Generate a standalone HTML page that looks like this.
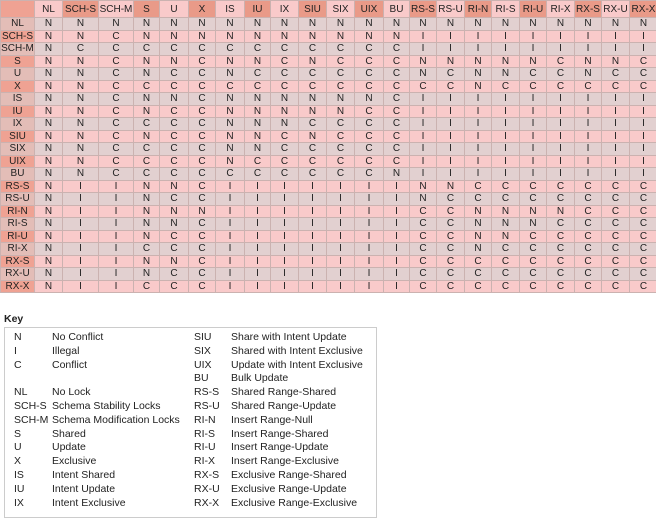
<!DOCTYPE html>
<html><head><meta charset="utf-8"><style>
body{margin:0;background:#fff;font-family:"Liberation Sans","DejaVu Sans",sans-serif;font-size:10px;color:#222;width:656px;height:524px;overflow:hidden;position:relative}
table.m{position:absolute;left:0;top:0;border-collapse:collapse;table-layout:fixed;width:656px}
table.m td{border:1px solid #cbb2b0;text-align:center;padding:0;height:11.5px;line-height:11px;overflow:hidden;white-space:nowrap}
table.m tr.h td{height:16px;background:#e3c2bd}
table.m tr.h td:nth-child(odd){background:#e99a88}
table.m tr.h td:first-child{background:#f48a72}
table.m tr:nth-child(even) td{background:#e2d0d0}
table.m tr:nth-child(odd) td{background:#f9caca}
table.m tr:nth-child(even) td:first-child{background:#e3bdb7}
table.m tr:nth-child(odd) td:first-child{background:#efa293}
.key{position:absolute;left:4px;top:313px;font-weight:bold;font-size:10.5px}
.box{position:absolute;left:4px;top:327px;width:371px;height:189px;border:1px solid #ccc}
.k{position:absolute;font-size:10.5px;line-height:13.8px;white-space:pre}
</style></head><body>
<table class="m">
<colgroup><col style="width:34px"><col style="width:28px"><col style="width:36px"><col style="width:35px"><col style="width:26px"><col style="width:29px"><col style="width:27px"><col style="width:29px"><col style="width:26px"><col style="width:28px"><col style="width:28px"><col style="width:28px"><col style="width:29px"><col style="width:26px"><col style="width:27px"><col style="width:28px"><col style="width:27px"><col style="width:28px"><col style="width:27px"><col style="width:28px"><col style="width:27px"><col style="width:28px"><col style="width:28px"></colgroup>
<tr class="h"><td></td><td>NL</td><td>SCH-S</td><td>SCH-M</td><td>S</td><td>U</td><td>X</td><td>IS</td><td>IU</td><td>IX</td><td>SIU</td><td>SIX</td><td>UIX</td><td>BU</td><td>RS-S</td><td>RS-U</td><td>RI-N</td><td>RI-S</td><td>RI-U</td><td>RI-X</td><td>RX-S</td><td>RX-U</td><td>RX-X</td></tr>
<tr><td>NL</td><td>N</td><td>N</td><td>N</td><td>N</td><td>N</td><td>N</td><td>N</td><td>N</td><td>N</td><td>N</td><td>N</td><td>N</td><td>N</td><td>N</td><td>N</td><td>N</td><td>N</td><td>N</td><td>N</td><td>N</td><td>N</td><td>N</td></tr>
<tr><td>SCH-S</td><td>N</td><td>N</td><td>C</td><td>N</td><td>N</td><td>N</td><td>N</td><td>N</td><td>N</td><td>N</td><td>N</td><td>N</td><td>N</td><td>I</td><td>I</td><td>I</td><td>I</td><td>I</td><td>I</td><td>I</td><td>I</td><td>I</td></tr>
<tr><td>SCH-M</td><td>N</td><td>C</td><td>C</td><td>C</td><td>C</td><td>C</td><td>C</td><td>C</td><td>C</td><td>C</td><td>C</td><td>C</td><td>C</td><td>I</td><td>I</td><td>I</td><td>I</td><td>I</td><td>I</td><td>I</td><td>I</td><td>I</td></tr>
<tr><td>S</td><td>N</td><td>N</td><td>C</td><td>N</td><td>N</td><td>C</td><td>N</td><td>N</td><td>C</td><td>N</td><td>C</td><td>C</td><td>C</td><td>N</td><td>N</td><td>N</td><td>N</td><td>N</td><td>C</td><td>N</td><td>N</td><td>C</td></tr>
<tr><td>U</td><td>N</td><td>N</td><td>C</td><td>N</td><td>C</td><td>C</td><td>N</td><td>C</td><td>C</td><td>C</td><td>C</td><td>C</td><td>C</td><td>N</td><td>C</td><td>N</td><td>N</td><td>C</td><td>C</td><td>N</td><td>C</td><td>C</td></tr>
<tr><td>X</td><td>N</td><td>N</td><td>C</td><td>C</td><td>C</td><td>C</td><td>C</td><td>C</td><td>C</td><td>C</td><td>C</td><td>C</td><td>C</td><td>C</td><td>C</td><td>N</td><td>C</td><td>C</td><td>C</td><td>C</td><td>C</td><td>C</td></tr>
<tr><td>IS</td><td>N</td><td>N</td><td>C</td><td>N</td><td>N</td><td>C</td><td>N</td><td>N</td><td>N</td><td>N</td><td>N</td><td>N</td><td>C</td><td>I</td><td>I</td><td>I</td><td>I</td><td>I</td><td>I</td><td>I</td><td>I</td><td>I</td></tr>
<tr><td>IU</td><td>N</td><td>N</td><td>C</td><td>N</td><td>C</td><td>C</td><td>N</td><td>N</td><td>N</td><td>N</td><td>N</td><td>C</td><td>C</td><td>I</td><td>I</td><td>I</td><td>I</td><td>I</td><td>I</td><td>I</td><td>I</td><td>I</td></tr>
<tr><td>IX</td><td>N</td><td>N</td><td>C</td><td>C</td><td>C</td><td>C</td><td>N</td><td>N</td><td>N</td><td>C</td><td>C</td><td>C</td><td>C</td><td>I</td><td>I</td><td>I</td><td>I</td><td>I</td><td>I</td><td>I</td><td>I</td><td>I</td></tr>
<tr><td>SIU</td><td>N</td><td>N</td><td>C</td><td>N</td><td>C</td><td>C</td><td>N</td><td>N</td><td>C</td><td>N</td><td>C</td><td>C</td><td>C</td><td>I</td><td>I</td><td>I</td><td>I</td><td>I</td><td>I</td><td>I</td><td>I</td><td>I</td></tr>
<tr><td>SIX</td><td>N</td><td>N</td><td>C</td><td>C</td><td>C</td><td>C</td><td>N</td><td>N</td><td>C</td><td>C</td><td>C</td><td>C</td><td>C</td><td>I</td><td>I</td><td>I</td><td>I</td><td>I</td><td>I</td><td>I</td><td>I</td><td>I</td></tr>
<tr><td>UIX</td><td>N</td><td>N</td><td>C</td><td>C</td><td>C</td><td>C</td><td>N</td><td>C</td><td>C</td><td>C</td><td>C</td><td>C</td><td>C</td><td>I</td><td>I</td><td>I</td><td>I</td><td>I</td><td>I</td><td>I</td><td>I</td><td>I</td></tr>
<tr><td>BU</td><td>N</td><td>N</td><td>C</td><td>C</td><td>C</td><td>C</td><td>C</td><td>C</td><td>C</td><td>C</td><td>C</td><td>C</td><td>N</td><td>I</td><td>I</td><td>I</td><td>I</td><td>I</td><td>I</td><td>I</td><td>I</td><td>I</td></tr>
<tr><td>RS-S</td><td>N</td><td>I</td><td>I</td><td>N</td><td>N</td><td>C</td><td>I</td><td>I</td><td>I</td><td>I</td><td>I</td><td>I</td><td>I</td><td>N</td><td>N</td><td>C</td><td>C</td><td>C</td><td>C</td><td>C</td><td>C</td><td>C</td></tr>
<tr><td>RS-U</td><td>N</td><td>I</td><td>I</td><td>N</td><td>C</td><td>C</td><td>I</td><td>I</td><td>I</td><td>I</td><td>I</td><td>I</td><td>I</td><td>N</td><td>C</td><td>C</td><td>C</td><td>C</td><td>C</td><td>C</td><td>C</td><td>C</td></tr>
<tr><td>RI-N</td><td>N</td><td>I</td><td>I</td><td>N</td><td>N</td><td>N</td><td>I</td><td>I</td><td>I</td><td>I</td><td>I</td><td>I</td><td>I</td><td>C</td><td>C</td><td>N</td><td>N</td><td>N</td><td>N</td><td>C</td><td>C</td><td>C</td></tr>
<tr><td>RI-S</td><td>N</td><td>I</td><td>I</td><td>N</td><td>N</td><td>C</td><td>I</td><td>I</td><td>I</td><td>I</td><td>I</td><td>I</td><td>I</td><td>C</td><td>C</td><td>N</td><td>N</td><td>N</td><td>C</td><td>C</td><td>C</td><td>C</td></tr>
<tr><td>RI-U</td><td>N</td><td>I</td><td>I</td><td>N</td><td>C</td><td>C</td><td>I</td><td>I</td><td>I</td><td>I</td><td>I</td><td>I</td><td>I</td><td>C</td><td>C</td><td>N</td><td>N</td><td>C</td><td>C</td><td>C</td><td>C</td><td>C</td></tr>
<tr><td>RI-X</td><td>N</td><td>I</td><td>I</td><td>C</td><td>C</td><td>C</td><td>I</td><td>I</td><td>I</td><td>I</td><td>I</td><td>I</td><td>I</td><td>C</td><td>C</td><td>N</td><td>C</td><td>C</td><td>C</td><td>C</td><td>C</td><td>C</td></tr>
<tr><td>RX-S</td><td>N</td><td>I</td><td>I</td><td>N</td><td>N</td><td>C</td><td>I</td><td>I</td><td>I</td><td>I</td><td>I</td><td>I</td><td>I</td><td>C</td><td>C</td><td>C</td><td>C</td><td>C</td><td>C</td><td>C</td><td>C</td><td>C</td></tr>
<tr><td>RX-U</td><td>N</td><td>I</td><td>I</td><td>N</td><td>C</td><td>C</td><td>I</td><td>I</td><td>I</td><td>I</td><td>I</td><td>I</td><td>I</td><td>C</td><td>C</td><td>C</td><td>C</td><td>C</td><td>C</td><td>C</td><td>C</td><td>C</td></tr>
<tr><td>RX-X</td><td>N</td><td>I</td><td>I</td><td>C</td><td>C</td><td>C</td><td>I</td><td>I</td><td>I</td><td>I</td><td>I</td><td>I</td><td>I</td><td>C</td><td>C</td><td>C</td><td>C</td><td>C</td><td>C</td><td>C</td><td>C</td><td>C</td></tr>
</table>
<div class="key">Key</div>
<div class="box"></div>
<div class="k" style="left:14px;top:331px">N
I
C

NL
SCH-S
SCH-M
S
U
X
IS
IU
IX</div>
<div class="k" style="left:52px;top:331px">No Conflict
Illegal
Conflict

No Lock
Schema Stability Locks
Schema Modification Locks
Shared
Update
Exclusive
Intent Shared
Intent Update
Intent Exclusive</div>
<div class="k" style="left:194px;top:331px">SIU
SIX
UIX
BU
RS-S
RS-U
RI-N
RI-S
RI-U
RI-X
RX-S
RX-U
RX-X</div>
<div class="k" style="left:231px;top:331px">Share with Intent Update
Shared with Intent Exclusive
Update with Intent Exclusive
Bulk Update
Shared Range-Shared
Shared Range-Update
Insert Range-Null
Insert Range-Shared
Insert Range-Update
Insert Range-Exclusive
Exclusive Range-Shared
Exclusive Range-Update
Exclusive Range-Exclusive</div>
</body></html>
